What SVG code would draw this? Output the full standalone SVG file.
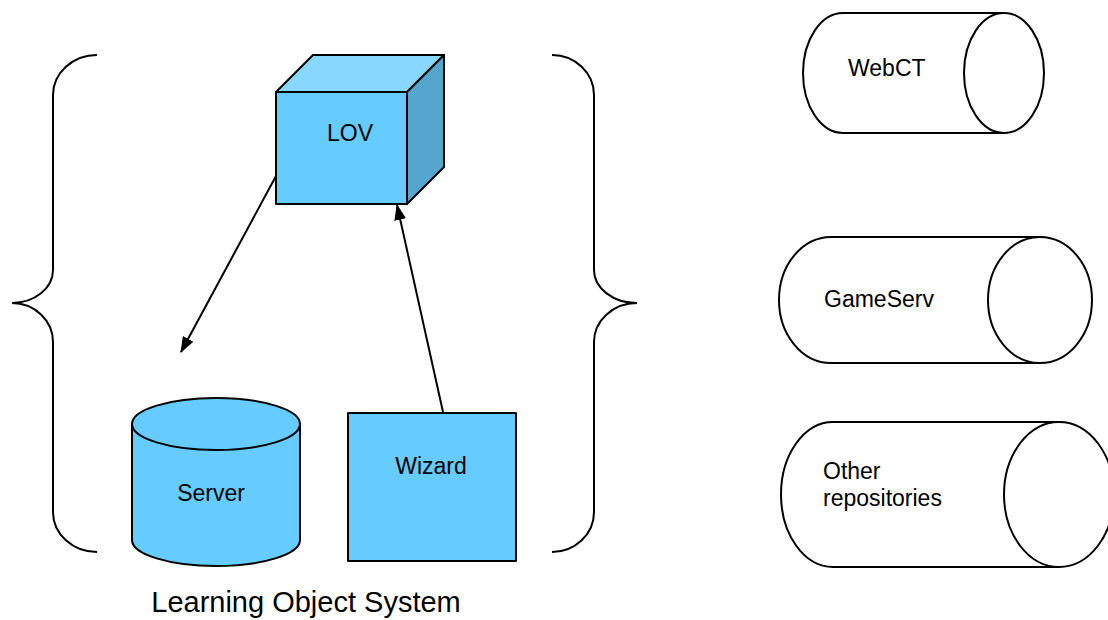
<svg xmlns="http://www.w3.org/2000/svg" width="1108" height="620" viewBox="0 0 1108 620">
  <defs>
    <style>
      .ol { stroke: #000; stroke-width: 2; stroke-linejoin: round; }
      .blue { fill: #66CCFF; }
      .top { fill: #88D7FF; }
      .side { fill: #55A6CF; }
      .white { fill: #FFFFFF; }
      .brace { fill: none; stroke: #000; stroke-width: 2; }
      .conn { fill: none; stroke: #000; stroke-width: 2; }
      .lbl { font-family: "Liberation Sans", Arial, sans-serif; font-size: 23px; fill: #000; }
      .mid { text-anchor: middle; }
      .title { font-family: "Liberation Sans", Arial, sans-serif; font-size: 29px; fill: #000; text-anchor: middle; }
    </style>
    <marker id="arrow" viewBox="0 0 16 12" markerWidth="16" markerHeight="12" refX="15" refY="6" orient="auto" markerUnits="userSpaceOnUse">
      <path d="M0,0 L16,6 L0,12 z" fill="#000"/>
    </marker>
  </defs>

  <g id="brace-left">
    <path class="brace" d="M97,55 A44,40 0 0 0 53,95 L53,270 A41,33 0 0 1 12,303 A41,39 0 0 1 53,342 L53,512 A44,40 0 0 0 97,552"/>
  </g>
  <g id="brace-right">
    <path class="brace" d="M552,55 A42,40 0 0 1 594,95 L594,270 A43,33 0 0 0 637,303 A43,39 0 0 0 594,342 L594,512 A42,40 0 0 1 552,552"/>
  </g>

  <g id="lov">
    <polygon class="ol top" points="276,92 313,55 444,55 407,92"/>
    <polygon class="ol side" points="407,92 444,55 444,167 407,204"/>
    <rect class="ol blue" x="276" y="92" width="131" height="112"/>
    <text class="lbl mid" x="350" y="141">LOV</text>
  </g>

  <g id="server">
    <path class="ol blue" d="M132,424 L132,540 A84,26 0 0 0 300,540 L300,424 Z"/>
    <ellipse class="ol blue" cx="216" cy="424" rx="84" ry="26"/>
    <text class="lbl mid" x="211" y="501">Server</text>
  </g>

  <g id="wizard">
    <rect class="ol blue" x="348" y="413" width="168" height="148"/>
    <text class="lbl mid" x="431" y="474">Wizard</text>
  </g>

  <g id="webct">
    <path class="ol white" d="M1004,13 L843,13 A40,60 0 0 0 843,133 L1004,133 Z"/>
    <ellipse class="ol white" cx="1004" cy="73" rx="40" ry="60"/>
    <text class="lbl" x="848" y="76">WebCT</text>
  </g>

  <g id="gameserv">
    <path class="ol white" d="M1040,237 L831,237 A52,63 0 0 0 831,363 L1040,363 Z"/>
    <ellipse class="ol white" cx="1040" cy="300" rx="52" ry="63"/>
    <text class="lbl" x="824" y="307">GameServ</text>
  </g>

  <g id="other-repositories">
    <path class="ol white" d="M1059,422 L833,422 A52,72.5 0 0 0 833,567 L1059,567 Z"/>
    <ellipse class="ol white" cx="1059" cy="494.5" rx="55" ry="72.5"/>
    <text class="lbl" x="823" y="479">Other</text>
    <text class="lbl" x="823" y="506">repositories</text>
  </g>

  <g id="connectors">
    <line class="conn" x1="276" y1="176" x2="181" y2="352" marker-end="url(#arrow)"/>
    <line class="conn" x1="443" y1="412" x2="397" y2="205" marker-end="url(#arrow)"/>
  </g>

  <text id="system-label" class="title" x="306" y="612">Learning Object System</text>
</svg>
